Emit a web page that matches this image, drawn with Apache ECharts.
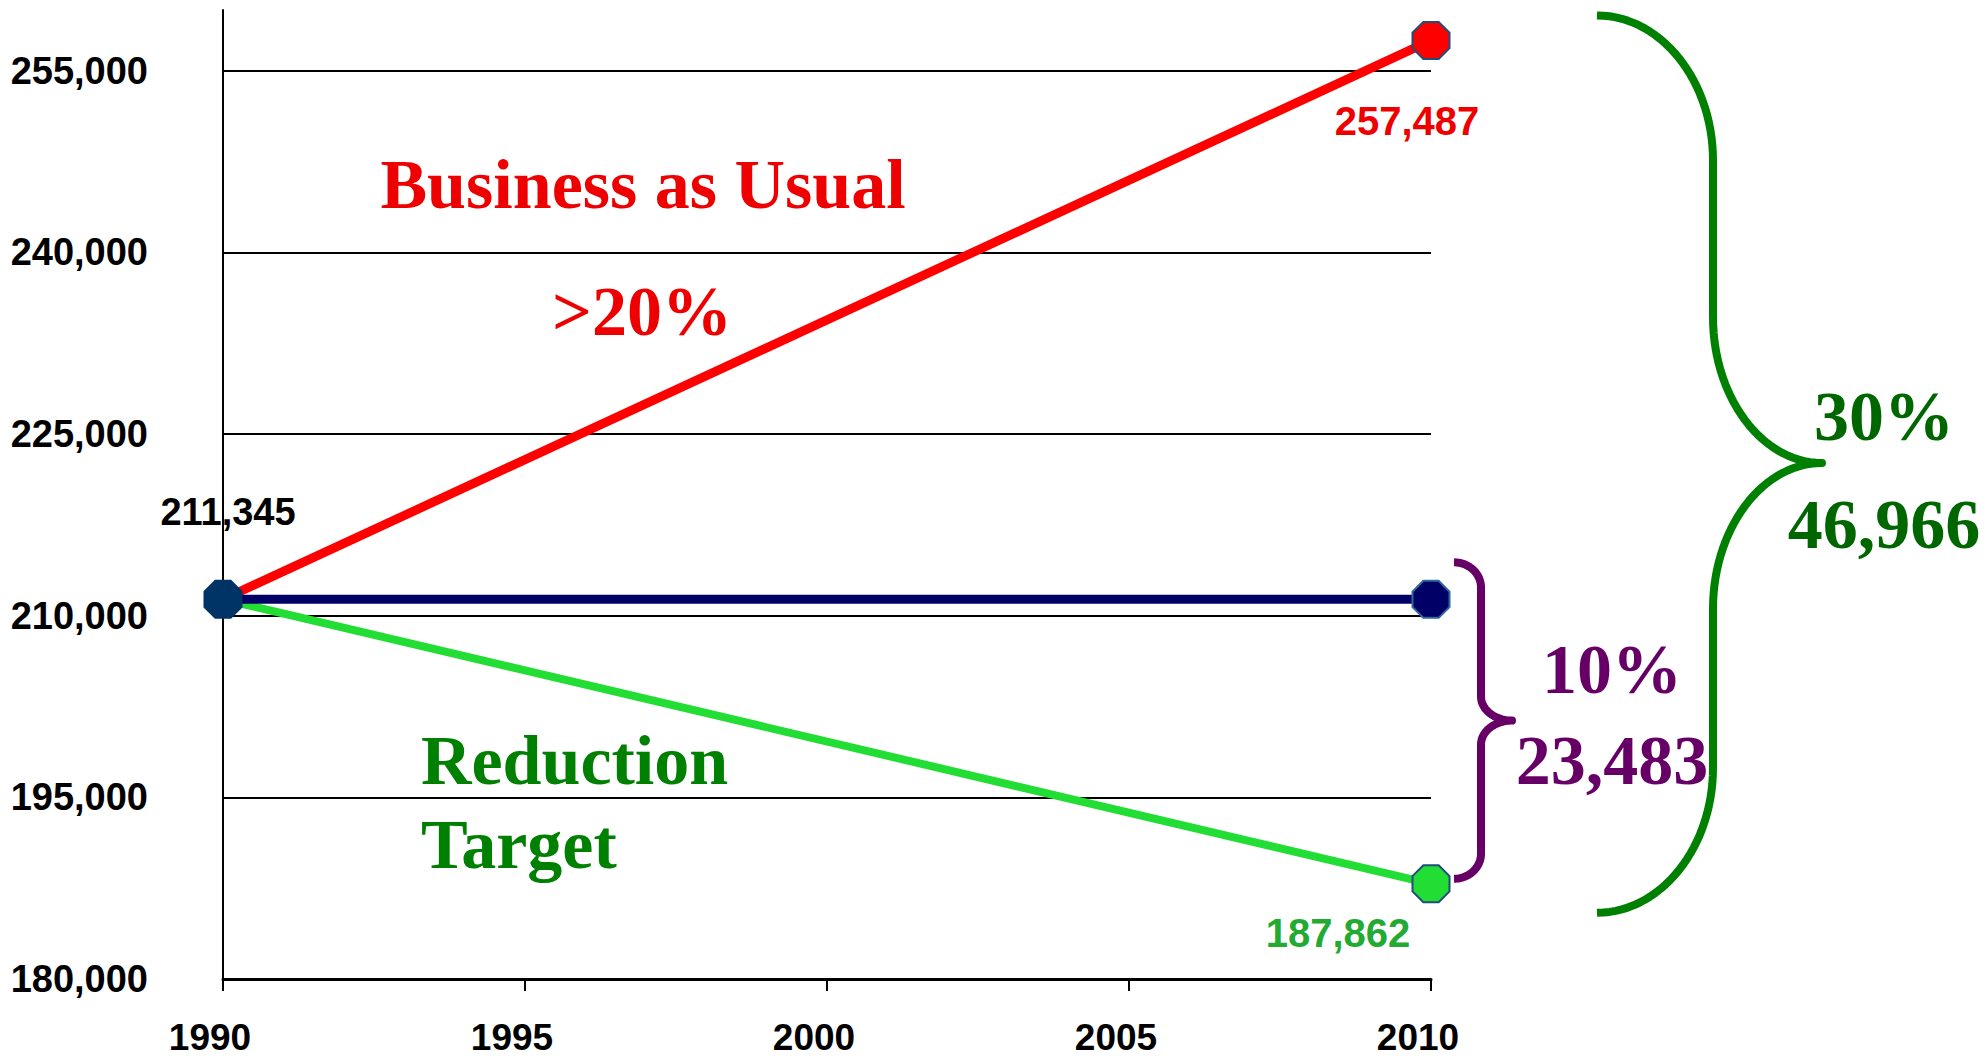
<!DOCTYPE html>
<html>
<head>
<meta charset="utf-8">
<script src="https://cdn.jsdelivr.net/npm/echarts@6/dist/echarts.min.js"></script>
<style>
html,body{margin:0;padding:0;background:#ffffff;}
#chart{width:1988px;height:1062px;}
</style>
</head>
<body>
<div id="chart"></div>
<script>
// ---- data ----
const years = [1990, 2010];
const businessAsUsual = [211345, 257487];
const stabilisation = [211345, 211345];
const reductionTarget = [211345, 187862];
const yRange = [180000, 260000];
const yStep = 15000;
const xRange = [1990, 2010];
const xStep = 5;
const bauTitle = ['Business as Usual', '>20%'];
const targetTitle = ['Reduction', 'Target'];
const gapLabels = ['10%', '23,483'];
const totalLabels = ['30%', '46,966'];

// ---- helpers ----
const fmt = v => Math.round(v).toLocaleString('en-US');
const pairs = arr => years.map((y, i) => [y, arr[i]]);
const octagon = 'path://M2.93,0 L7.07,0 L10,2.93 L10,7.07 L7.07,10 L2.93,10 L0,7.07 L0,2.93 Z';
const sans = '"Liberation Sans", Arial, sans-serif';
const serif = '"Liberation Serif", "Times New Roman", serif';

function seriesData(arr, opts) {
  return pairs(arr).map((p, i) => {
    const item = { value: p };
    if (opts.hideFirst && i === 0) item.symbol = 'none';
    if (opts.firstStyle && i === 0) item.itemStyle = opts.firstStyle;
    if (opts.labelAt === i) item.label = Object.assign({ show: true, formatter: fmt(arr[i]) }, opts.label);
    return item;
  });
}

const chart = echarts.init(document.getElementById('chart'), null, { renderer: 'svg' });

chart.setOption({
  animation: false,
  backgroundColor: '#ffffff',
  grid: { left: 223, right: 557, top: 10, bottom: 83, containLabel: false },
  xAxis: {
    type: 'value', min: xRange[0], max: xRange[1], interval: xStep,
    axisLine: { show: true, lineStyle: { color: '#000', width: 3 } },
    axisTick: { show: true, length: 12, lineStyle: { color: '#000', width: 2 } },
    axisLabel: { margin: 40, color: '#000', fontSize: 37, fontWeight: 'bold', fontFamily: sans,
                 padding: [0, 26, 0, 0], formatter: v => String(v) },
    splitLine: { show: false }
  },
  yAxis: {
    type: 'value', min: yRange[0], max: yRange[1], interval: yStep,
    axisLine: { show: true, lineStyle: { color: '#000', width: 2 } },
    axisTick: { show: false },
    axisLabel: { margin: 75, color: '#000', fontSize: 38, fontWeight: 'bold', fontFamily: sans,
                 showMaxLabel: false, formatter: v => fmt(v) },
    splitLine: { show: true, showMaxLine: false, lineStyle: { color: '#000', width: 2 } }
  },
  series: [
    {
      type: 'line', name: 'Reduction Target',
      data: seriesData(reductionTarget, {
        hideFirst: true, labelAt: 1,
        label: { position: 'inside', offset: [-93, 49], color: '#22aa33', fontSize: 40, fontWeight: 'bold', fontFamily: sans }
      }),
      symbol: octagon, symbolSize: 37,
      lineStyle: { color: '#22dd33', width: 8 },
      itemStyle: { color: '#22dd33', borderColor: '#1f4e79', borderWidth: 2 },
      z: 3
    },
    {
      type: 'line', name: 'Business as Usual',
      data: seriesData(businessAsUsual, {
        hideFirst: true, labelAt: 1,
        label: { position: 'inside', offset: [-24, 81], color: '#ee0000', fontSize: 40, fontWeight: 'bold', fontFamily: sans }
      }),
      symbol: octagon, symbolSize: 37,
      lineStyle: { color: '#ff0000', width: 9 },
      itemStyle: { color: '#ff0000', borderColor: '#1f4e79', borderWidth: 2 },
      z: 4
    },
    {
      type: 'line', name: '1990 level',
      data: seriesData(stabilisation, {
        firstStyle: { color: '#003366', borderColor: '#003366' }, labelAt: 0,
        label: { position: 'inside', offset: [5, -87], color: '#000', fontSize: 38, fontWeight: 'bold', fontFamily: sans }
      }),
      symbol: octagon, symbolSize: 37,
      lineStyle: { color: '#000066', width: 9 },
      itemStyle: { color: '#000066', borderColor: '#336699', borderWidth: 2 },
      z: 5
    }
  ]
});

// ---- annotations anchored to the data scale ----
const px = (x, y) => chart.convertToPixel({ xAxisIndex: 0, yAxisIndex: 0 }, [x, y]);
const pBau = px(years[1], businessAsUsual[1]);
const pStab = px(years[1], stabilisation[1]);
const pTgt = px(years[1], reductionTarget[1]);

function cubic(p0, p1, p2, p3, n, out) {
  for (let i = 1; i <= n; i++) {
    const t = i / n, u = 1 - t;
    out.push([
      u*u*u*p0[0] + 3*u*u*t*p1[0] + 3*u*t*t*p2[0] + t*t*t*p3[0],
      u*u*u*p0[1] + 3*u*u*t*p1[1] + 3*u*t*t*p2[1] + t*t*t*p3[1]
    ]);
  }
}

function bracePoints(xL, xV, xT, yTop, yTip, yBot, hEnd, hMid) {
  const k = 0.55, n = 30;
  const pts = [[xL, yTop]];
  cubic([xL, yTop], [xL + k * (xV - xL), yTop], [xV, yTop + hEnd - k * hEnd], [xV, yTop + hEnd], n, pts);
  pts.push([xV, yTip - hMid]);
  cubic([xV, yTip - hMid], [xV, yTip - hMid + k * hMid], [xT - k * (xT - xV), yTip], [xT, yTip], n, pts);
  cubic([xT, yTip], [xT - k * (xT - xV), yTip], [xV, yTip + hMid - k * hMid], [xV, yTip + hMid], n, pts);
  pts.push([xV, yBot - hEnd]);
  cubic([xV, yBot - hEnd], [xV, yBot - hEnd + k * hEnd], [xL + k * (xV - xL), yBot], [xL, yBot], n, pts);
  return pts;
}

const X = pBau[0];
// purple brace: 10% gap between 1990 level and target
const pTop = pStab[1] - 37, pBot = pTgt[1] - 5;
const pTip = (pTop + pBot) / 2;
// green brace: 30% gap between BAU and target
const gTop = pBau[1] - 25, gBot = pTgt[1] + 29;
const gTip = 463;

function txt(text, x, y, color, size, align) {
  return {
    type: 'text', x: x, y: y, z: 100,
    style: { text: text, fill: color, fontSize: size, fontWeight: 'bold', fontFamily: serif,
             textAlign: align || 'center', textVerticalAlign: 'middle' }
  };
}

chart.setOption({
  graphic: [
    { type: 'polyline', z: 50, shape: { points: bracePoints(X + 23, X + 50, X + 81, pTop, pTip, pBot, 25, 24) },
      style: { fill: null, stroke: '#660066', lineWidth: 8, lineJoin: 'round' } },
    { type: 'polyline', z: 50, shape: { points: bracePoints(X + 166, X + 282, X + 391, gTop, gTip, gBot, 145, 146) },
      style: { fill: null, stroke: '#008000', lineWidth: 8, lineJoin: 'round' } },
    txt(bauTitle[0], 643, 184, '#ee0000', 70),
    txt(bauTitle[1], 642, 311, '#ee0000', 70),
    txt(targetTitle[0], 421, 760, '#008000', 70, 'left'),
    txt(targetTitle[1], 421, 844, '#008000', 70, 'left'),
    txt(gapLabels[0], 1612, 669, '#660066', 70),
    txt(gapLabels[1], 1612, 760, '#660066', 70),
    txt(totalLabels[0], 1884, 416, '#006600', 70),
    txt(totalLabels[1], 1884, 524, '#006600', 70)
  ]
});
</script>
</body>
</html>
